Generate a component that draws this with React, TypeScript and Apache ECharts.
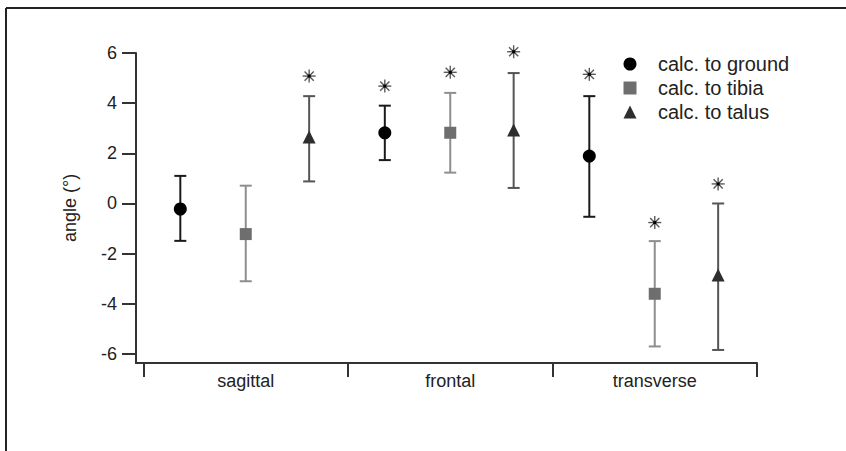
import React, { useEffect, useRef } from "react";
import * as echarts from "echarts";

const categories = ["sagittal", "frontal", "transverse"];
const yTicks = [-6, -4, -2, 0, 2, 4, 6];
const categoryBounds = [-0.5, 0.5, 1.5, 2.5];
const categoryCenters = [0, 1, 2];

const seriesNames = ["calc. to ground", "calc. to tibia", "calc. to talus"];

const groundMean = [-0.22, 2.82, 1.89];
const groundHigh = [1.1, 3.9, 4.28];
const groundLow = [-1.49, 1.73, -0.53];
const groundStar = [null, 4.68, 5.15];

const tibiaMean = [-1.22, 2.82, -3.6];
const tibiaHigh = [0.71, 4.41, -1.5];
const tibiaLow = [-3.1, 1.23, -5.7];
const tibiaStar = [null, 5.23, -0.76];

const talusMean = [2.65, 2.93, -2.85];
const talusHigh = [4.28, 5.2, 0.0];
const talusLow = [0.88, 0.62, -5.84];
const talusStar = [5.08, 6.05, 0.78];

const FONT = "'Liberation Sans', Arial, Helvetica, sans-serif";

export default function App() {
  const ref = useRef<HTMLDivElement>(null);
  useEffect(() => {
    if (!ref.current) return;
    const chart = echarts.init(ref.current, undefined, { renderer: "svg" });

    const groups = [
      { name: seriesNames[0], mean: groundMean, high: groundHigh, low: groundLow, star: groundStar, offset: -0.32, symbol: "circle", size: 13, marker: "#000000", bar: "#1a1a1a" },
      { name: seriesNames[1], mean: tibiaMean, high: tibiaHigh, low: tibiaLow, star: tibiaStar, offset: 0, symbol: "rect", size: 12, marker: "#6e6e6e", bar: "#8e8e8e" },
      { name: seriesNames[2], mean: talusMean, high: talusHigh, low: talusLow, star: talusStar, offset: 0.31, symbol: "triangle", size: 13, marker: "#2e2e2e", bar: "#555555" },
    ];

    const series: any[] = [];
    groups.forEach((g) => {
      series.push({
        type: "custom",
        name: g.name + " err",
        data: categoryCenters.map((c, i) => [c + g.offset, g.low[i], g.high[i]]),
        encode: { x: 0, y: [1, 2] },
        z: 2,
        silent: true,
        renderItem: (params: any, api: any) => {
          const x = api.value(0);
          const lo = api.coord([x, api.value(1)]);
          const hi = api.coord([x, api.value(2)]);
          const st = { stroke: g.bar, lineWidth: 2 };
          const cw = 6;
          return {
            type: "group",
            children: [
              { type: "line", shape: { x1: lo[0], y1: lo[1], x2: hi[0], y2: hi[1] }, style: st },
              { type: "line", shape: { x1: hi[0] - cw, y1: hi[1], x2: hi[0] + cw, y2: hi[1] }, style: st },
              { type: "line", shape: { x1: lo[0] - cw, y1: lo[1], x2: lo[0] + cw, y2: lo[1] }, style: st },
            ],
          };
        },
      });
      series.push({
        type: "scatter",
        name: g.name,
        data: categoryCenters.map((c, i) => [c + g.offset, g.mean[i]]),
        symbol: g.symbol,
        symbolSize: g.size,
        itemStyle: { color: g.marker, opacity: 1 },
        z: 5,
      });
      series.push({
        type: "custom",
        name: g.name + " sig",
        data: categoryCenters
          .map((c, i) => (g.star[i] == null ? null : [c + g.offset, g.star[i]]))
          .filter((d) => d != null),
        encode: { x: 0, y: 1 },
        z: 4,
        silent: true,
        renderItem: (params: any, api: any) => {
          const p = api.coord([api.value(0), api.value(1)]);
          const r = 6.5;
          const d = 4.6;
          const st = { stroke: "#5a5a5a", lineWidth: 1.4 };
          return {
            type: "group",
            children: [
              { type: "line", shape: { x1: p[0], y1: p[1] - r, x2: p[0], y2: p[1] + r }, style: st },
              { type: "line", shape: { x1: p[0] - r, y1: p[1], x2: p[0] + r, y2: p[1] }, style: st },
              { type: "line", shape: { x1: p[0] - d, y1: p[1] - d, x2: p[0] + d, y2: p[1] + d }, style: st },
              { type: "line", shape: { x1: p[0] - d, y1: p[1] + d, x2: p[0] + d, y2: p[1] - d }, style: st },
              { type: "rect", shape: { x: p[0] - 1.5, y: p[1] - 1.5, width: 3, height: 3 }, style: { fill: "#000" } },
            ],
          };
        },
      });
    });

    const axisLineStyle = { color: "#333", width: 2 };

    chart.setOption({
      animation: false,
      backgroundColor: "#ffffff",
      grid: { left: 136, right: 89, top: 53, bottom: 88 },
      xAxis: {
        type: "value",
        min: -0.5367,
        max: 2.5,
        splitLine: { show: false },
        axisLine: { show: true, onZero: false, lineStyle: axisLineStyle },
        axisTick: { show: true, length: 14, customValues: categoryBounds, lineStyle: axisLineStyle },
        axisLabel: {
          customValues: categoryCenters,
          formatter: (v: number) => categories[Math.round(v)] ?? "",
          fontSize: 18,
          color: "#222",
          fontFamily: FONT,
          margin: 9,
        },
      },
      yAxis: {
        type: "value",
        min: -6.36,
        max: 6,
        splitLine: { show: false },
        axisLine: { show: true, onZero: false, lineStyle: axisLineStyle },
        axisTick: { show: true, length: 14, customValues: yTicks, lineStyle: axisLineStyle },
        axisLabel: { customValues: yTicks, fontSize: 18, color: "#222", fontFamily: FONT, margin: 19 },
        name: "angle (°)",
        nameLocation: "middle",
        nameGap: 57,
        nameRotate: 90,
        nameTextStyle: { fontSize: 18, color: "#222", fontFamily: FONT },
      },
      legend: {
        orient: "vertical",
        left: 618.5,
        top: 49,
        itemWidth: 13,
        itemHeight: 13,
        itemGap: 4,
        data: seriesNames,
        textStyle: { fontSize: 20, color: "#222", fontFamily: FONT, padding: [0, 0, 0, 16.5] },
        selectedMode: false,
      },
      graphic: [
        { type: "line", shape: { x1: 6, y1: 8, x2: 846, y2: 8 }, style: { stroke: "#222", lineWidth: 2 } },
        { type: "line", shape: { x1: 6, y1: 8, x2: 6, y2: 451 }, style: { stroke: "#222", lineWidth: 2 } },
      ],
      series,
    });

    return () => chart.dispose();
  }, []);

  return (
    <div
      ref={ref}
      style={{ position: "fixed", left: 0, top: 0, width: 846, height: 451, background: "#fff" }}
    />
  );
}
